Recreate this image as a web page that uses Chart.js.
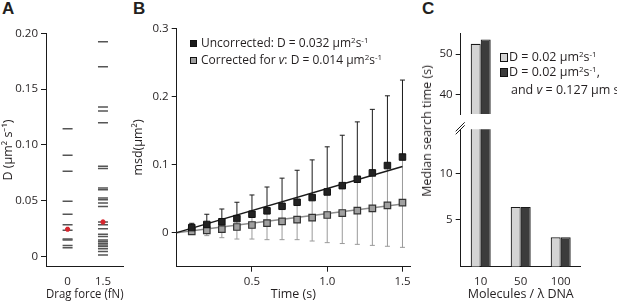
<!DOCTYPE html>
<html>
<head>
<meta charset="utf-8">
<script src="https://cdn.jsdelivr.net/npm/chart.js@4.4.1/dist/chart.umd.min.js"></script>
<style>
  body { margin: 0; background: #fff; }
  #page { position: relative; width: 617px; height: 303px; overflow: hidden; font-family: 'Open Sans', sans-serif; color: #231f20; }
  canvas { position: absolute; }
  .txt { position: absolute; white-space: nowrap; font-size: 12px; line-height: 14px; }
  .sup { font-size: 8px; position: relative; top: -4px; }
  .letter { position: absolute; font: bold 17px 'Liberation Sans', Arial, sans-serif; }
  .box { position: absolute; border: 1px solid #111; box-sizing: border-box; }
</style>
</head>
<body>
<div id="page">
  <div class="letter" style="left:2px;top:-1px">A</div>
  <div class="letter" style="left:133px;top:-1px">B</div>
  <div class="letter" style="left:422px;top:-1px">C</div>

  <canvas id="chartA" width="130" height="303" style="left:0;top:0"></canvas>
  <canvas id="chartB" width="290" height="303" style="left:130px;top:0"></canvas>
  <canvas id="chartCtop" width="197" height="124" style="left:420px;top:0"></canvas>
  <canvas id="chartCbottom" width="197" height="185" style="left:420px;top:118px"></canvas>

  <!-- legend B -->
  <div class="box" style="left:190px;top:40px;width:7px;height:7px;background:#1a1a1a"></div>
  <div class="txt" style="left:201px;top:36px">Uncorrected: D = 0.032 µm<span class="sup">2</span>s<span class="sup">-1</span></div>
  <div class="box" style="left:190px;top:57px;width:7px;height:7px;background:#a0a0a0"></div>
  <div class="txt" style="left:201px;top:53px">Corrected for <i>v</i>: D = 0.014 µm<span class="sup">2</span>s<span class="sup">-1</span></div>

  <!-- legend C -->
  <div class="box" style="left:500px;top:53px;width:8px;height:9px;background:#d4d4d4"></div>
  <div class="txt" style="left:509px;top:50px;font-size:12.5px">D = 0.02 µm<span class="sup">2</span>s<span class="sup">-1</span></div>
  <div class="box" style="left:500px;top:68px;width:8px;height:9px;background:#3c3c3c"></div>
  <div class="txt" style="left:509px;top:65px;font-size:12.5px">D = 0.02 µm<span class="sup">2</span>s<span class="sup">-1</span>,</div>
  <div class="txt" style="left:511px;top:83px;font-size:12.5px">and <i>v</i> = 0.127 µm s<span class="sup">-1</span></div>

  <div class="txt" style="left:427px;top:131px;font-size:12.5px;transform:translate(-50%,-50%) rotate(-90deg)">Median search time (s)</div>
</div>

<script>
// A: diffusion coefficients per drag force
const forceLabels = ['0', '1.5'];
const forcePos = [0, 1];
const dragZero = [0.1146, 0.0908, 0.0764, 0.0495, 0.038, 0.0285, 0.0237, 0.0159, 0.015, 0.0099, 0.008];
const dragOneFive = [0.1925, 0.17, 0.134, 0.1304, 0.12, 0.081, 0.079, 0.0615, 0.06, 0.0525, 0.051, 0.048, 0.045,
                     0.031, 0.0285, 0.0249, 0.0201, 0.018, 0.015, 0.0135, 0.012, 0.0105, 0.009, 0.007, 0.0045, 0.0015];
const meanD = [0.0245, 0.031];
const dTicks = [0, 0.05, 0.10, 0.15, 0.20];

// B: msd vs time
const times = [0.1, 0.2, 0.3, 0.4, 0.5, 0.6, 0.7, 0.8, 0.9, 1.0, 1.1, 1.2, 1.3, 1.4, 1.5];
const msdUncorrected = [0.0074, 0.012, 0.016, 0.0206, 0.027, 0.032, 0.0387, 0.0446, 0.0515, 0.0597, 0.069, 0.0784, 0.0877, 0.0985, 0.111];
const msdUncorrectedHigh = [0.0137, 0.027, 0.0347, 0.0446, 0.0553, 0.067, 0.080, 0.0916, 0.1068, 0.126, 0.143, 0.1626, 0.181, 0.2009, 0.224];
const msdCorrected = [0.002, 0.0034, 0.0053, 0.0083, 0.0112, 0.0141, 0.0166, 0.019, 0.022, 0.0259, 0.0288, 0.0323, 0.0357, 0.040, 0.044];
const msdCorrectedLow = [-0.0015, -0.0044, -0.0074, -0.0094, -0.0094, -0.0103, -0.0103, -0.0103, -0.0123, -0.0147, -0.016, -0.0172, -0.0187, -0.02, -0.0216];
const msdCorrectedHigh = [0.0055, 0.011, 0.018, 0.026, 0.032, 0.038, 0.044, 0.048, 0.056, 0.066, 0.074, 0.082, 0.090, 0.100, 0.110];
const fitTimes = [0, 1.5];
const fitUncorrected = [0, 0.097];
const fitCorrected = [0, 0.042];
const msdTicks = [0, 0.1, 0.2, 0.3];
const timeTicks = [0.5, 1.0, 1.5];

// C: median search time
const molecules = ['10', '50', '100'];
const searchD = [52.5, 6.4, 3.15];
const searchDv = [53.6, 6.4, 3.15];
const upperTicks = [40, 50];
const lowerTicks = [5, 10];

Chart.defaults.font.family = "'Open Sans', sans-serif";
Chart.defaults.font.size = 11.5;
Chart.defaults.color = '#231f20';
Chart.defaults.animation = false;
Chart.defaults.events = [];
Chart.defaults.plugins.legend.display = false;
Chart.defaults.plugins.tooltip.enabled = false;

const ink = '#1a1a1a';
const fixTicks = vals => s => { s.ticks = vals.map(v => ({ value: v })); };

function leftAxis(min, max, ticks, width, fmt, title) {
    return {
        min: min, max: max,
        afterBuildTicks: fixTicks(ticks),
        afterFit: s => { s.width = width; },
        ticks: { callback: fmt, padding: 3, autoSkip: false },
        grid: { drawOnChartArea: false, tickLength: 5, color: ink },
        border: { color: ink, width: 1 },
        title: title ? { display: true, text: title, font: { size: 12.5 }, padding: { top: 1, bottom: 0 } } : { display: false }
    };
}

// ---- A ----
new Chart(document.getElementById('chartA'), {
    type: 'scatter',
    data: {
        datasets: [
            { data: meanD.map((v, i) => ({ x: forcePos[i], y: v })), pointStyle: 'star', pointRadius: 2.5,
              pointBorderColor: '#d7262e', pointBorderWidth: 2, order: 0 },
            { data: dragZero.map(v => ({ x: forcePos[0], y: v })), pointStyle: 'line', pointRadius: 5,
              pointBorderColor: '#555', pointBorderWidth: 1.5, order: 1 },
            { data: dragOneFive.map(v => ({ x: forcePos[1], y: v })), pointStyle: 'line', pointRadius: 5,
              pointBorderColor: '#555', pointBorderWidth: 1.5, order: 1 }
        ]
    },
    options: {
        responsive: false,
        layout: { padding: { top: 33.3, right: 5, left: 0, bottom: 0 } },
        scales: {
            x: {
                type: 'linear', min: -0.61, max: 1.58,
                afterBuildTicks: fixTicks(forcePos),
                afterFit: s => { s.height = 36.3; },
                ticks: { callback: (v, i) => forceLabels[i], padding: 8, maxRotation: 0, autoSkip: false },
                grid: { display: false, drawTicks: false },
                border: { color: ink, width: 1 },
                title: { display: true, text: 'Drag force (fN)', font: { size: 12.5 }, padding: { top: 0, bottom: 1 } }
            },
            y: leftAxis(-0.009, 0.2, dTicks, 46, v => v === 0 ? '0' : v.toFixed(2), 'D (µm² s⁻¹)')
        }
    }
});

// ---- B ----
const errorBars = {
    id: 'errorBars',
    beforeDatasetsDraw(chart) {
        const { ctx, scales: { x, y } } = chart;
        const cap = 2.5;
        ctx.save();
        ctx.lineWidth = 1;
        times.forEach((t, i) => {
            const px = x.getPixelForValue(t);
            // grey bars for the corrected series
            const lo = y.getPixelForValue(msdCorrectedLow[i]);
            const hi = y.getPixelForValue(msdCorrectedHigh[i]);
            ctx.strokeStyle = '#9a9a9a';
            ctx.beginPath();
            ctx.moveTo(px, lo); ctx.lineTo(px, hi);
            ctx.moveTo(px - cap, lo); ctx.lineTo(px + cap, lo);
            ctx.stroke();
            // black bars (upper half) for the uncorrected series
            const m = y.getPixelForValue(msdUncorrected[i]);
            const top = y.getPixelForValue(msdUncorrectedHigh[i]);
            ctx.strokeStyle = ink;
            ctx.beginPath();
            ctx.moveTo(px, m); ctx.lineTo(px, top);
            ctx.moveTo(px - cap, top); ctx.lineTo(px + cap, top);
            ctx.stroke();
        });
        ctx.restore();
    }
};

new Chart(document.getElementById('chartB'), {
    type: 'scatter',
    data: {
        datasets: [
            { data: msdUncorrected.map((v, i) => ({ x: times[i], y: v })), pointStyle: 'rect', pointRadius: 4.6,
              pointBackgroundColor: '#222', pointBorderColor: '#111', pointBorderWidth: 1, order: 0 },
            { data: msdCorrected.map((v, i) => ({ x: times[i], y: v })), pointStyle: 'rect', pointRadius: 4.6,
              pointBackgroundColor: '#a0a0a0', pointBorderColor: '#333', pointBorderWidth: 1.2, order: 1 },
            { data: fitTimes.map((t, i) => ({ x: t, y: fitUncorrected[i] })), showLine: true, pointRadius: 0,
              borderColor: ink, borderWidth: 1.5, order: 2 },
            { data: fitTimes.map((t, i) => ({ x: t, y: fitCorrected[i] })), showLine: true, pointRadius: 0,
              borderColor: '#8c8c8c', borderWidth: 1.5, order: 3 }
        ]
    },
    options: {
        responsive: false,
        layout: { padding: { top: 28.3, right: 10, left: 0, bottom: 0 } },
        scales: {
            x: {
                type: 'linear', min: 0, max: 1.55,
                afterBuildTicks: fixTicks(timeTicks),
                afterFit: s => { s.height = 36.3; },
                ticks: { callback: v => v.toFixed(1), padding: 3, maxRotation: 0, autoSkip: false },
                grid: { drawOnChartArea: false, tickLength: 5, color: ink },
                border: { color: ink, width: 1 },
                title: { display: true, text: 'Time (s)', font: { size: 12.5 }, padding: { top: 0, bottom: 1 } }
            },
            y: leftAxis(-0.05, 0.3, msdTicks, 46.7, v => v === 0 ? '0' : v.toFixed(1), 'msd(µm²)')
        }
    },
    plugins: [errorBars]
});

// ---- C (broken axis: two stacked charts) ----
function barSets() {
    return [
        { data: searchD, backgroundColor: '#d4d4d4', borderColor: ink, borderWidth: 1.2,
          categoryPercentage: 0.5, barPercentage: 1.0, clip: 0 },
        { data: searchDv, backgroundColor: '#3c3c3c', borderColor: ink, borderWidth: 1.2,
          categoryPercentage: 0.5, barPercentage: 1.0, clip: 0 }
    ];
}

new Chart(document.getElementById('chartCtop'), {
    type: 'bar',
    data: { labels: molecules, datasets: barSets() },
    options: {
        responsive: false,
        layout: { padding: { top: 33.3, right: 36.3, left: 0, bottom: 0 } },
        scales: {
            x: { display: false },
            y: leftAxis(35.2, 55.1, upperTicks, 40.7, v => String(v), null)
        }
    }
});

const axisBreak = {
    id: 'axisBreak',
    afterDraw(chart) {
        const { ctx, chartArea: { left, top } } = chart;
        ctx.save();
        ctx.strokeStyle = ink;
        ctx.lineWidth = 1;
        ctx.beginPath();
        ctx.moveTo(left - 5, top + 2); ctx.lineTo(left + 4, top - 7);
        ctx.moveTo(left - 5, top + 5); ctx.lineTo(left + 4, top - 4);
        ctx.stroke();
        ctx.restore();
    }
};

new Chart(document.getElementById('chartCbottom'), {
    type: 'bar',
    data: { labels: molecules, datasets: barSets() },
    options: {
        responsive: false,
        layout: { padding: { top: 11.3, right: 36.3, left: 0, bottom: 0 } },
        scales: {
            x: {
                afterFit: s => { s.height = 36.3; },
                ticks: { padding: 8, maxRotation: 0, autoSkip: false },
                grid: { display: false, drawTicks: false },
                border: { color: ink, width: 1 },
                title: { display: true, text: 'Molecules / λ DNA', font: { size: 12.5 }, padding: { top: 0, bottom: 1 } }
            },
            y: leftAxis(0, 14.7, lowerTicks, 40.7, v => String(v), null)
        }
    },
    plugins: [axisBreak]
});
</script>
</body>
</html>
